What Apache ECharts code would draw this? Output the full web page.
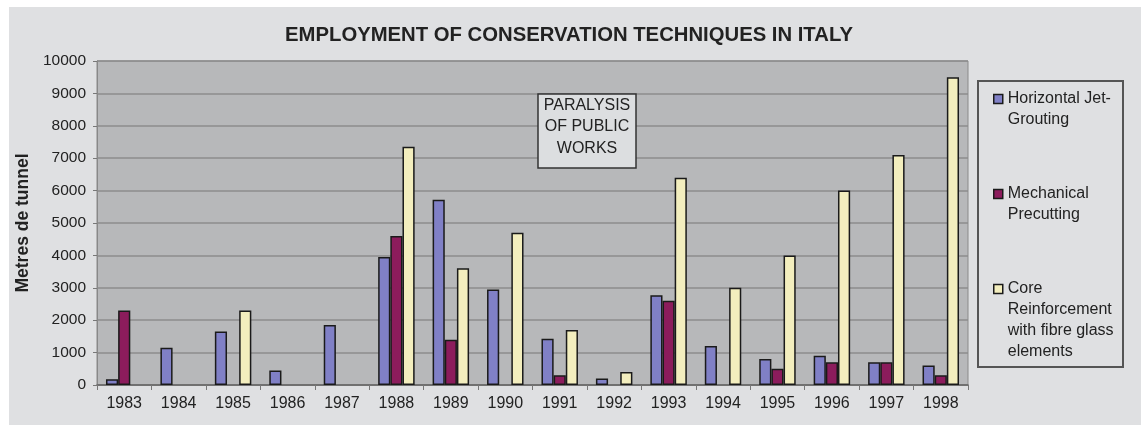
<!DOCTYPE html>
<html>
<head>
<meta charset="utf-8">
<script src="https://cdn.jsdelivr.net/npm/echarts@6/dist/echarts.min.js"></script>
<style>
  html, body { margin: 0; padding: 0; background: #ffffff; }
  #chart { width: 1141px; height: 425px; }
</style>
</head>
<body>
<div id="chart"></div>
<script>
// Years on the horizontal axis
const years = ['1983', '1984', '1985', '1986', '1987', '1988', '1989', '1990',
               '1991', '1992', '1993', '1994', '1995', '1996', '1997', '1998'];

// Metres of tunnel per technique and year (null = not used that year)
const jetGrouting = [180, 1150, 1650, 450, 1850, 3950, 5720, 2950,
                     1430, 200, 2770, 1200, 800, 900, 700, 600];
const precutting = [2300, null, null, null, null, 4600, 1400, null,
                    300, null, 2600, null, 500, 700, 700, 300];
const coreReinforcement = [null, null, 2300, null, null, 7350, 3600, 4700,
                           1700, 400, 6400, 3000, 4000, 6000, 7100, 9500];

// Legend labels (multi-line)
const seriesNames = ['Horizontal Jet-\nGrouting', 'Mechanical\nPrecutting',
                     'Core\nReinforcement\nwith fibre glass\nelements'];

const yTicks = { min: 0, max: 10000, interval: 1000 };

const FONT = '"Liberation Sans", Arial, sans-serif';
const INK = '#222222';

// Legend text is vertically centred on its icon by ECharts; pad each label
// with blank lines so that the icon sits beside the first line of text.
const PAD_LINES = 3;
function legendLabel(name) {
  const lines = name.split('\n');
  const trailing = PAD_LINES - lines.length + 1;
  return '\n'.repeat(PAD_LINES) + name + '\n'.repeat(Math.max(0, trailing)) + (trailing > 0 ? ' ' : '');
}

const chart = echarts.init(document.getElementById('chart'), null, { renderer: 'canvas' });

function barSeries(name, data, color) {
  return {
    name: name,
    type: 'bar',
    data: data,
    barGap: '0%',
    barCategoryGap: '33%',
    itemStyle: { color: color, borderColor: '#1a1a1a', borderWidth: 1.5 },
    emphasis: { disabled: true }
  };
}

chart.setOption({
  backgroundColor: '#ffffff',
  animation: false,
  textStyle: { fontFamily: FONT },
  title: {
    text: 'EMPLOYMENT OF CONSERVATION TECHNIQUES IN ITALY',
    left: 564,
    textAlign: 'center',
    top: 20,
    textStyle: { fontFamily: FONT, fontSize: 20.3, fontWeight: 'bold', color: INK }
  },
  graphic: [
    { // outer panel
      type: 'rect', z: -10, silent: true,
      shape: { x: 9, y: 7, width: 1132, height: 418 },
      style: { fill: '#dfe0e2' }
    },
    { // legend frame
      type: 'rect', z: 1, silent: true,
      shape: { x: 978, y: 81, width: 145, height: 286 },
      style: { fill: '#dfe0e2', stroke: '#555555', lineWidth: 2 }
    },
    { // annotation box
      type: 'rect', z: 50, silent: true,
      shape: { x: 538, y: 94, width: 98, height: 74 },
      style: { fill: '#dcdee0', stroke: '#333333', lineWidth: 1.5 }
    },
    {
      type: 'text', z: 51, silent: true,
      x: 587, y: 127,
      style: {
        text: 'PARALYSIS\nOF PUBLIC\nWORKS',
        align: 'center', verticalAlign: 'middle',
        font: '16px ' + FONT, lineHeight: 21.5, fill: INK
      }
    }
  ],
  legend: {
    orient: 'vertical',
    left: 993,
    top: 25.5,
    padding: 0,
    itemGap: -52,
    itemWidth: 9,
    itemHeight: 9,
    icon: 'rect',
    selectedMode: false,
    itemStyle: { borderColor: '#1a1a1a', borderWidth: 1.5 },
    formatter: legendLabel,
    textStyle: { fontFamily: FONT, fontSize: 16, color: INK, lineHeight: 21 }
  },
  grid: {
    left: 97, right: 173, top: 61, bottom: 40,
    show: true,
    backgroundColor: '#b7b8ba',
    borderColor: '#8a8a8a',
    borderWidth: 1
  },
  xAxis: {
    type: 'category',
    data: years,
    axisLine: { lineStyle: { color: '#666666', width: 1.5 } },
    axisTick: { show: true, inside: false, length: 5, lineStyle: { color: '#777777' } },
    axisLabel: { fontFamily: FONT, fontSize: 16, color: INK, margin: 11 }
  },
  yAxis: {
    type: 'value',
    min: yTicks.min, max: yTicks.max, interval: yTicks.interval,
    name: 'Metres de tunnel',
    nameLocation: 'middle',
    nameRotate: 90,
    nameGap: 60,
    nameTextStyle: { fontFamily: FONT, fontSize: 17.5, fontWeight: 'bold', color: INK },
    axisLine: { show: true, lineStyle: { color: '#888888', width: 1 } },
    axisTick: { show: true, length: 4, lineStyle: { color: '#777777' } },
    axisLabel: { fontFamily: FONT, fontSize: 15.5, color: INK, margin: 11,
                 formatter: (v) => String(v) },
    splitLine: { show: true, lineStyle: { color: '#8c8c8c', width: 1.5 } }
  },
  series: [
    barSeries(seriesNames[0], jetGrouting, '#8080c6'),
    barSeries(seriesNames[1], precutting, '#8c1c5c'),
    barSeries(seriesNames[2], coreReinforcement, '#f3eebe')
  ]
});
</script>
</body>
</html>
